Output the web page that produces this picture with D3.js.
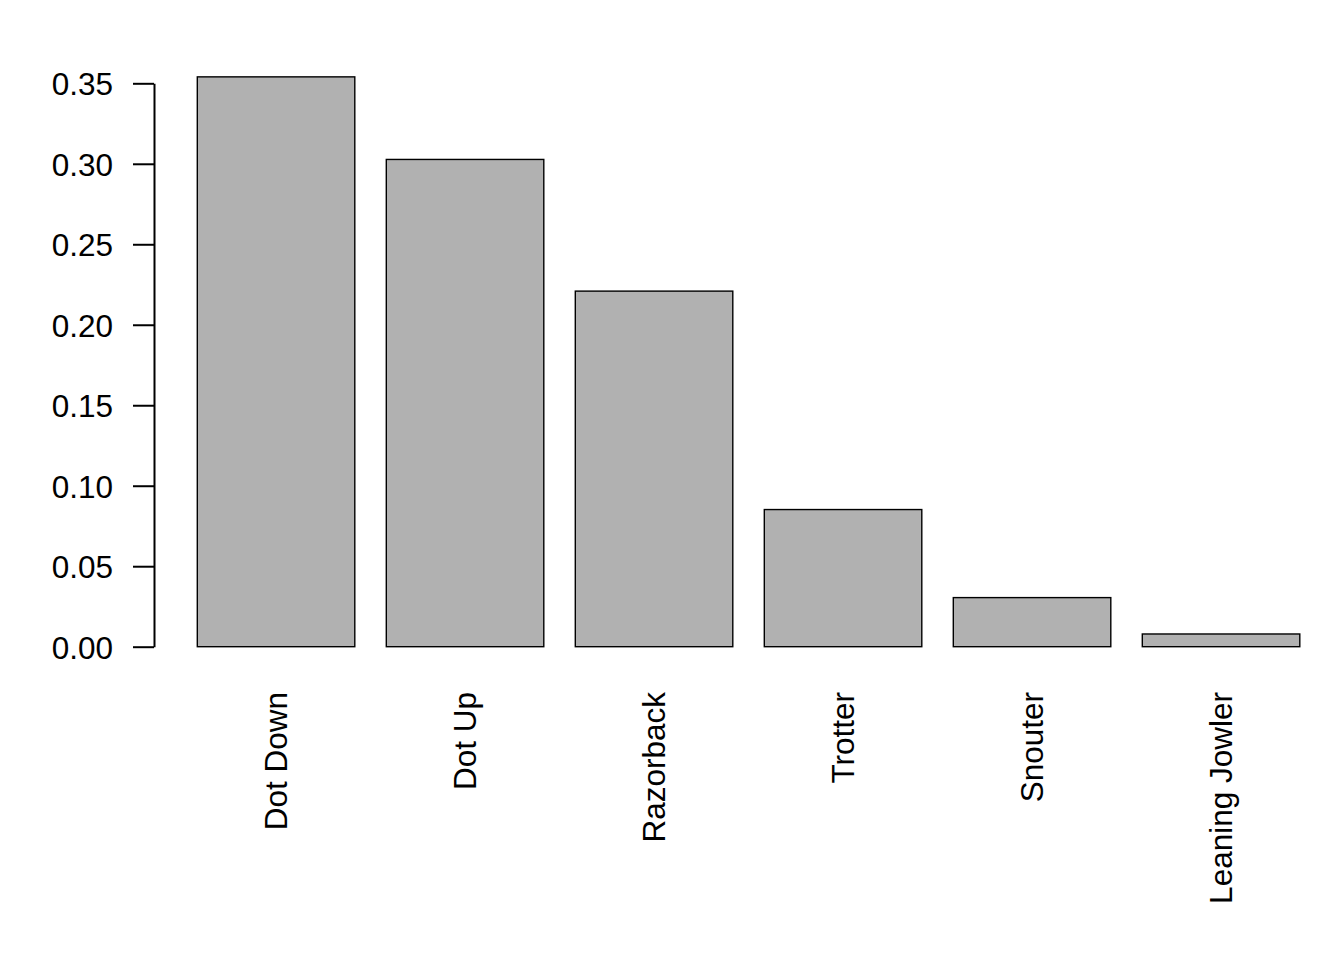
<!DOCTYPE html>
<html>
<head>
<meta charset="utf-8">
<script src="https://cdn.jsdelivr.net/npm/d3@7"></script>
<style>
  body { margin: 0; background: #fff; }
  text { font-family: "Liberation Sans", Arial, sans-serif; font-size: 31.5px; fill: #000; }
</style>
</head>
<body>
<svg width="1344" height="960"></svg>
<script>
var svg = d3.select("svg");

// Data
var positions = ["Dot Down", "Dot Up", "Razorback", "Trotter", "Snouter", "Leaning Jowler"];
var probabilities = [0.354, 0.3027, 0.2209, 0.0852, 0.0305, 0.0079];
var yTicks = [0, 0.05, 0.10, 0.15, 0.20, 0.25, 0.30, 0.35];

// Scales
var x = d3.scaleBand()
    .domain(positions)
    .range([197.3, 1299.8])
    .paddingInner(1 / 6)
    .paddingOuter(0);

var y = d3.scaleLinear()
    .domain([0, 0.35])
    .range([646.7, 83.3]);

// Bars
svg.selectAll("rect.bar")
    .data(positions)
    .enter()
    .append("rect")
    .attr("class", "bar")
    .attr("x", function(d) { return x(d); })
    .attr("width", x.bandwidth())
    .attr("y", function(d, i) { return y(probabilities[i]); })
    .attr("height", function(d, i) { return y(0) - y(probabilities[i]); })
    .style("fill", "#b1b1b1")
    .style("stroke", "#000")
    .style("stroke-width", 1.4);

// Y axis
var yAxis = d3.axisLeft(y)
    .tickValues(yTicks)
    .tickFormat(d3.format(".2f"))
    .tickSizeInner(21)
    .tickSizeOuter(0)
    .tickPadding(20);

var axis = svg.append("g")
    .attr("transform", "translate(154, 0)")
    .call(yAxis);

axis.select(".domain").style("stroke", "#000").style("stroke-width", 2);
axis.selectAll(".tick line").style("stroke", "#000").style("stroke-width", 2);
axis.selectAll(".tick text")
    .attr("font-family", null)
    .attr("font-size", null)
    .attr("dy", "0.36em");

// Rotated category labels
svg.selectAll("text.cat")
    .data(positions)
    .enter()
    .append("text")
    .attr("class", "cat")
    .attr("text-anchor", "end")
    .attr("transform", function(d) {
        return "translate(" + (x(d) + x.bandwidth() / 2 + 11) + ", 692) rotate(-90)";
    })
    .text(function(d) { return d; });
</script>
</body>
</html>
